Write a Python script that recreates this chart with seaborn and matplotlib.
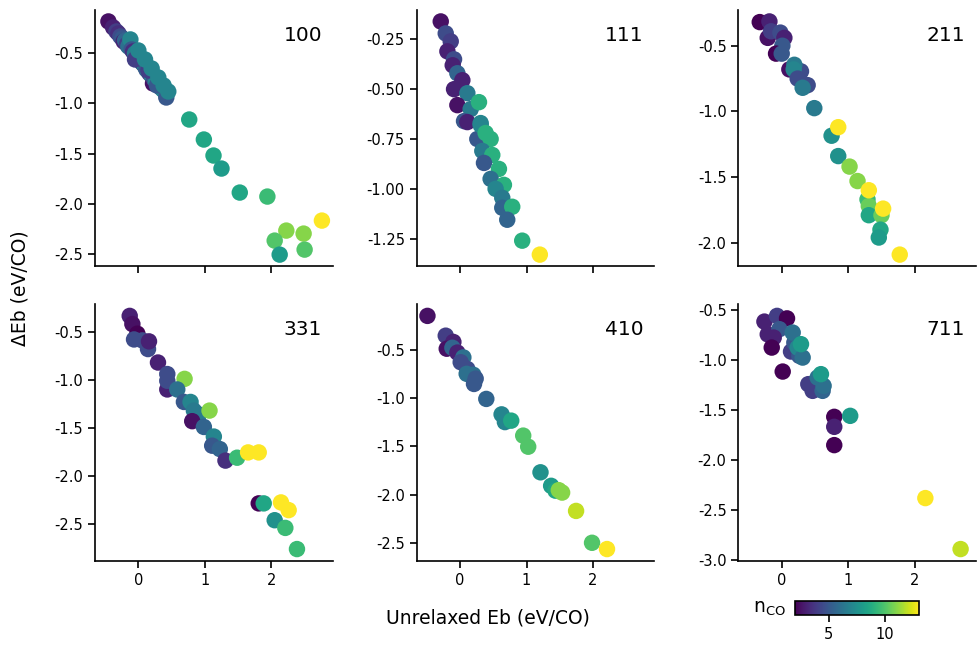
import numpy as np
import pandas as pd
import matplotlib
matplotlib.use("Agg")
import matplotlib.pyplot as plt
import matplotlib.ticker as mticker
import seaborn as sns

facets = ["100", "111", "211", "331", "410", "711"]

# ---- data (x = unrelaxed Eb, y = ΔEb, n = n_CO) ----
x_100 = [-0.45, -0.38, -0.33, -0.30, -0.27, -0.24, -0.22, -0.20, -0.17, -0.15, -0.12, -0.10, -0.08, -0.05,
         -0.02, 0.00, 0.03, 0.05, 0.08, 0.10, 0.12, 0.15, 0.17, 0.20, 0.22, 0.24, 0.27, 0.30, 0.32, 0.35,
         0.38, -0.05, 0.15, 0.28, 0.42, 0.00, 0.10, 0.20, 0.30, 0.38, 0.45,
         0.765, 0.985, 1.13, 1.25, 1.525, 1.94, 2.76, 2.225, 2.485, 2.05, 2.50, 2.125]
y_100 = [-0.18, -0.24, -0.28, -0.30, -0.33, -0.35, -0.38, -0.37, -0.41, -0.43, -0.36, -0.46, -0.48, -0.50,
         -0.53, -0.55, -0.57, -0.59, -0.61, -0.63, -0.66, -0.68, -0.70, -0.72, -0.80, -0.76, -0.78, -0.80,
         -0.83, -0.85, -0.87, -0.56, -0.67, -0.82, -0.94, -0.47, -0.56, -0.65, -0.74, -0.82, -0.88,
         -1.16, -1.36, -1.52, -1.65, -1.89, -1.93, -2.17, -2.27, -2.30, -2.37, -2.46, -2.51]
n_100 = [2.5, 3, 4, 3.5, 4.5, 5, 3, 5.5, 4, 6, 7, 5, 3.5, 6.5,
         5, 7, 4, 6.5, 3, 7, 5, 7, 3.5, 7, 2.5, 5, 7, 4.5, 7, 6,
         7, 4, 4, 5, 5, 7, 7, 7, 7, 7, 7,
         8.5, 8.5, 8.5, 8, 8.5, 9.5, 13, 11, 11, 10, 10, 8]

x_111 = [-0.29, -0.215, -0.14, -0.19, -0.09, -0.11, -0.04, 0.035, -0.09, 0.11, -0.04, 0.16, 0.06, 0.11,
         0.31, 0.26, 0.31, 0.285, 0.385, 0.46, 0.335, 0.485, 0.36, 0.585, 0.46, 0.66, 0.535, 0.635,
         0.635, 0.785, 0.71, 0.935, 1.2]
y_111 = [-0.16, -0.22, -0.26, -0.31, -0.35, -0.38, -0.42, -0.455, -0.50, -0.52, -0.58, -0.60, -0.66,
         -0.665, -0.67, -0.75, -0.68, -0.565, -0.72, -0.75, -0.81, -0.83, -0.87, -0.90, -0.95, -0.98,
         -1.00, -1.045, -1.095, -1.09, -1.155, -1.26, -1.33]
n_111 = [2.5, 4.5, 4, 3, 4.5, 3, 5.5, 3, 3, 6.5, 2.5, 6.5, 5, 3,
         7, 5, 7, 9, 9, 9, 6.5, 9, 5, 9, 6, 9,
         7, 6.5, 5.5, 9, 5.5, 9, 13]

x_211 = [-0.33, -0.185, -0.21, -0.16, -0.02, 0.04, 0.01, -0.085, 0.00, 0.115, 0.29, 0.19, 0.18, 0.24,
         0.39, 0.315, 0.49, 0.75, 0.85, 0.85, 1.02, 1.14, 1.29, 1.31, 1.31, 1.31, 1.50, 1.525, 1.485,
         1.46, 1.775]
y_211 = [-0.32, -0.315, -0.44, -0.39, -0.40, -0.44, -0.50, -0.56, -0.56, -0.68, -0.695, -0.645, -0.68,
         -0.75, -0.80, -0.82, -0.975, -1.185, -1.12, -1.34, -1.42, -1.53, -1.67, -1.72, -1.79, -1.60,
         -1.79, -1.74, -1.90, -1.96, -2.09]
n_211 = [2, 3, 2.5, 4, 4.5, 3, 5, 2, 5, 2.5, 4.5, 6.5, 7, 4.5,
         4.5, 6.5, 6.5, 7.5, 13, 7.5, 11, 11, 9.5, 10.5, 8.5, 13, 10.5, 13, 8.5,
         8, 13]

x_331 = [-0.13, -0.09, -0.015, -0.065, 0.06, 0.145, 0.16, 0.295, 0.435, 0.435, 0.435, 0.695, 0.585,
         0.685, 0.785, 0.835, 0.91, 1.07, 0.81, 0.985, 1.135, 1.11, 1.225, 1.31, 1.485, 1.65, 1.81,
         1.81, 1.885, 2.145, 2.26, 2.05, 2.21, 2.385]
y_331 = [-0.335, -0.42, -0.52, -0.58, -0.59, -0.68, -0.60, -0.82, -1.10, -0.94, -1.01, -0.99, -1.10,
         -1.23, -1.23, -1.32, -1.36, -1.32, -1.43, -1.49, -1.59, -1.685, -1.72, -1.84, -1.81, -1.755,
         -1.755, -2.285, -2.285, -2.275, -2.355, -2.46, -2.54, -2.76]
n_331 = [3, 2.5, 2, 4.5, 4.5, 4.5, 3, 3, 3, 4.5, 4.5, 11, 6,
         5, 7, 6.5, 6.5, 11, 2.5, 5.5, 7, 5, 5.5, 3.5, 9.5, 13, 13,
         2, 8.5, 13, 13, 7.5, 9.5, 9.5]

x_410 = [-0.49, -0.215, -0.10, -0.20, -0.115, -0.04, 0.05, 0.01, 0.11, 0.10, 0.20, 0.21, 0.235, 0.395,
         0.625, 0.675, 0.77, 0.95, 1.025, 1.21, 1.37, 1.435, 1.485, 1.535, 1.745, 1.985, 2.21]
y_410 = [-0.15, -0.355, -0.42, -0.49, -0.48, -0.53, -0.58, -0.63, -0.70, -0.75, -0.76, -0.855, -0.80,
         -1.01, -1.17, -1.25, -1.235, -1.39, -1.505, -1.77, -1.91, -1.96, -1.955, -1.98, -2.17, -2.50,
         -2.565]
n_410 = [2.5, 4, 3, 2.5, 5.5, 3, 6, 4.5, 4.5, 6, 6, 5, 5, 5.5,
         7, 7, 8.5, 10, 10, 7.5, 8, 8.5, 11, 11, 12, 10, 13]

x_711 = [-0.26, -0.07, 0.08, -0.21, -0.035, -0.12, -0.15, 0.015, 0.14, 0.19, 0.265, 0.165, 0.24,
         0.315, 0.29, 0.40, 0.465, 0.615, 0.63, 0.54, 0.59, 0.79, 0.79, 0.79, 1.03, 2.16, 2.69]
y_711 = [-0.617, -0.56, -0.585, -0.745, -0.693, -0.777, -0.877, -1.117, -0.917, -0.827, -0.96, -0.727,
         -0.877, -0.977, -0.843, -1.243, -1.31, -1.31, -1.26, -1.177, -1.143, -1.57, -1.67, -1.853,
         -1.56, -2.383, -2.893]
n_711 = [3, 4, 2, 3, 5, 3, 2, 2, 4, 5, 5, 6, 7,
         6, 8, 4, 4, 5.5, 6, 6, 8, 2, 3, 2, 8, 13, 12]

xs = [x_100, x_111, x_211, x_331, x_410, x_711]
ys = [y_100, y_111, y_211, y_331, y_410, y_711]
ns = [n_100, n_111, n_211, n_331, n_410, n_711]

frames = []
for f, xv, yv, nv in zip(facets, xs, ys, ns):
    frames.append(pd.DataFrame({"facet": f, "x": xv, "y": yv, "n": nv}))
df = pd.concat(frames, ignore_index=True)

sns.set_style("ticks")
plt.rcParams["font.family"] = ["DejaVu Sans"]
plt.rcParams["axes.unicode_minus"] = False
plt.rcParams["xtick.labelsize"] = 10.5
plt.rcParams["ytick.labelsize"] = 10.5
for k in ["text.color", "axes.labelcolor", "xtick.color", "ytick.color", "axes.edgecolor"]:
    plt.rcParams[k] = "black"

vmin, vmax = 2, 13
fig, axes = plt.subplots(2, 3, sharex=True, figsize=(9.79, 6.52), dpi=100)
fig.subplots_adjust(left=0.097, right=0.997, top=0.985, bottom=0.140, wspace=0.353, hspace=0.148)

ytick_steps = [0.5, 0.25, 0.5, 0.5, 0.5, 0.5]
for ax, f, step in zip(axes.flat, facets, ytick_steps):
    sub = df[df["facet"] == f]
    sns.scatterplot(data=sub, x="x", y="y", hue="n", palette="viridis", hue_norm=(vmin, vmax),
                    s=140, linewidth=0, alpha=1, legend=False, ax=ax)
    ax.set_xlabel("")
    ax.set_ylabel("")
    ax.yaxis.set_major_locator(mticker.MultipleLocator(step))
    ax.text(0.955, 0.90, f, transform=ax.transAxes, ha="right", va="center", fontsize=14.5)
    sns.despine(ax=ax)
    ax.tick_params(direction="out", length=5, width=1.2)
    for sp in ax.spines.values():
        sp.set_linewidth(1.2)

axes[0, 0].xaxis.set_major_locator(mticker.FixedLocator([0, 1, 2]))

fig.text(488 / 979, 1 - 618 / 652, "Unrelaxed Eb (eV/CO)", ha="center", va="center", fontsize=13.5)
fig.text(20 / 979, 1 - 288 / 652, "ΔEb (eV/CO)", ha="center", va="center", rotation=90, fontsize=13.5)

cax = fig.add_axes([795 / 979, 1 - 615 / 652, 124 / 979, 14 / 652])
sm = plt.cm.ScalarMappable(cmap="viridis", norm=plt.Normalize(vmin, vmax))
cb = fig.colorbar(sm, cax=cax, orientation="horizontal", ticks=[5, 10])
cb.outline.set_linewidth(1.2)
cax.tick_params(length=5, width=1.2, labelsize=10.5)
fig.text(786 / 979, 1 - 609 / 652, r"n$_{\mathrm{CO}}$", ha="right", va="center", fontsize=13.5)

fig.savefig("out.png", dpi=100)
